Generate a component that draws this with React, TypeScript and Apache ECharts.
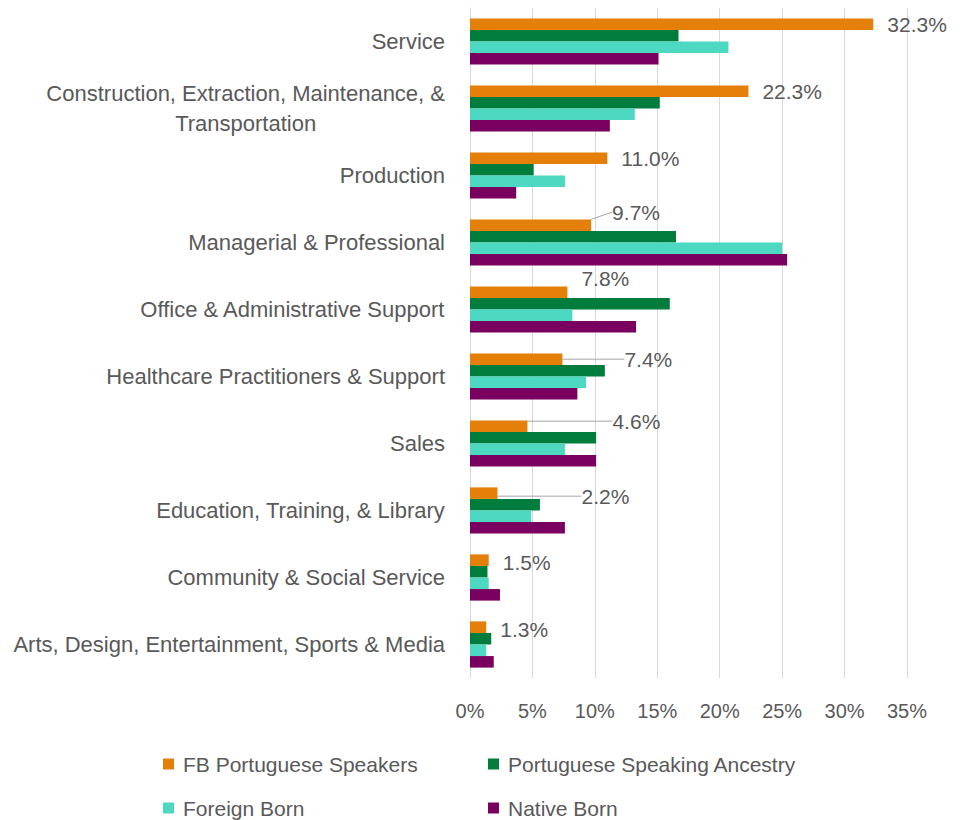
import React, { useEffect, useRef } from 'react';
import * as echarts from 'echarts';

const categories = [
  'Service',
  'Construction, Extraction, Maintenance, &\nTransportation',
  'Production',
  'Managerial & Professional',
  'Office & Administrative Support',
  'Healthcare Practitioners & Support',
  'Sales',
  'Education, Training, & Library',
  'Community & Social Service',
  'Arts, Design, Entertainment, Sports & Media',
];
const seriesNames = ['FB Portuguese Speakers', 'Portuguese Speaking Ancestry', 'Foreign Born', 'Native Born'];
const fbPortugueseSpeakers = [32.3, 22.3, 11.0, 9.7, 7.8, 7.4, 4.6, 2.2, 1.5, 1.3];
const portugueseSpeakingAncestry = [16.7, 15.2, 5.1, 16.5, 16.0, 10.8, 10.1, 5.6, 1.4, 1.7];
const foreignBorn = [20.7, 13.2, 7.6, 25.0, 8.2, 9.3, 7.6, 4.9, 1.5, 1.3];
const nativeBorn = [15.1, 11.2, 3.7, 25.4, 13.3, 8.6, 10.1, 7.6, 2.4, 1.9];
const xMin = 0;
const xMax = 35;
const xInterval = 5;

const colors = ['#E47F0A', '#007D3C', '#4DD8C1', '#7A005F'];
const labelShift: number[][] = [[0, 0], [0, 0], [0, 0], [7, -13], [0, -14], [48, 0], [71, -5], [70, 3], [0, 2], [0, 2]];
const labelLeader = [false, false, false, true, false, true, true, true, false, false];

const FONT = 'Liberation Sans';
const GRAY = '#595959';

export default function App() {
  const ref = useRef<HTMLDivElement>(null);
  useEffect(() => {
    if (!ref.current) return;
    const chart = echarts.init(ref.current, null, { renderer: 'svg' });
    const values = [fbPortugueseSpeakers, portugueseSpeakingAncestry, foreignBorn, nativeBorn];
    const series: any[] = values.map((vals, si) => {
      const s: any = {
        name: seriesNames[si],
        type: 'bar',
        barGap: '0%',
        barCategoryGap: '31%',
        itemStyle: { color: colors[si] },
        data: vals.map((v, i) => {
          if (si === 0) {
            return {
              value: v,
              labelLine: {
                show: labelLeader[i],
                lineStyle: { color: '#A6A6A6', width: 1 },
              },
            };
          }
          return { value: v };
        }),
      };
      if (si === 0) {
        s.label = {
          show: true,
          position: 'right',
          distance: 14,
          color: GRAY,
          fontFamily: FONT,
          fontSize: 21,
          formatter: (p: any) => Number(p.value).toFixed(1) + '%',
        };
        s.labelLayout = (p: any) => {
          const sh = labelShift[p.dataIndex];
          return { dx: sh[0], dy: sh[1] };
        };
        s.labelLine = { show: true, lineStyle: { color: '#A6A6A6', width: 1 } };
      }
      return s;
    });

    const legendBase = {
      orient: 'vertical',
      top: 753,
      padding: 0,
      itemWidth: 11,
      itemHeight: 11,
      itemGap: 22,
      icon: 'rect',
      textStyle: { color: GRAY, fontFamily: FONT, fontSize: 21, lineHeight: 22, padding: [0, 0, 0, 4] },
    };

    chart.setOption({
      animation: false,
      textStyle: { fontFamily: FONT },
      grid: { left: 470, right: 56, top: 8, bottom: 142, containLabel: false },
      xAxis: {
        type: 'value',
        min: xMin,
        max: xMax,
        interval: xInterval,
        axisLine: { show: false },
        axisTick: { show: false },
        splitLine: { show: true, lineStyle: { color: '#D9D9D9', width: 1 } },
        axisLabel: {
          color: GRAY,
          fontFamily: FONT,
          fontSize: 20,
          margin: 23,
          formatter: '{value}%',
        },
      },
      yAxis: {
        type: 'category',
        inverse: true,
        data: categories,
        axisLine: { show: true, lineStyle: { color: '#D9D9D9', width: 1 } },
        axisTick: { show: false },
        axisLabel: {
          margin: 25,
          color: GRAY,
          fontFamily: FONT,
          fontSize: 22,
          formatter: (v: string) => v.split('\n').map((l) => `{c|${l}}`).join('\n'),
          rich: {
            c: { color: GRAY, fontFamily: FONT, fontSize: 22, lineHeight: 30, align: 'center' },
          },
        },
      },
      legend: [
        { ...legendBase, data: [seriesNames[0], seriesNames[2]], left: 163 },
        { ...legendBase, data: [seriesNames[1], seriesNames[3]], left: 488 },
      ],
      series,
    });
    return () => chart.dispose();
  }, []);
  return <div ref={ref} style={{ width: 963, height: 820, position: 'absolute', left: 0, top: 0 }} />;
}
